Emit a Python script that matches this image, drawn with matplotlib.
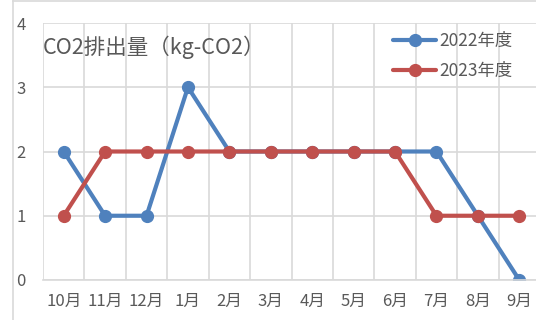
import matplotlib.pyplot as plt
import numpy as np

plt.rcParams['font.family'] = ['Noto Sans CJK JP', 'DejaVu Sans']

months = ['10月', '11月', '12月', '1月', '2月', '3月', '4月', '5月', '6月', '7月', '8月', '9月']
co2_2022 = [2, 1, 1, 3, 2, 2, 2, 2, 2, 2, 1, 0]
co2_2023 = [1, 2, 2, 2, 2, 2, 2, 2, 2, 1, 1, 1]
labels = ['2022年度', '2023年度']

blue = '#4F81BD'
red = '#C0504D'
grid_c = '#D9D9D9'
text_c = '#595959'

fig = plt.figure(figsize=(5.36, 3.2), dpi=100)
# plot area runs off the right edge of the image
ax = fig.add_axes([43/536, 1 - 280/320, 497/536, 257/320])

x = np.arange(len(months))
ax.plot(x, co2_2022, color=blue, lw=3, marker='o', ms=8.5, label=labels[0], solid_capstyle='round')
ax.plot(x, co2_2023, color=red, lw=3, marker='o', ms=8.5, label=labels[1], solid_capstyle='round')

ax.set_xlim(-0.5, len(months) - 0.5)
ax.set_ylim(0, 4)
ax.set_yticks(range(5))
ax.set_xticks(x)
ax.set_xticklabels(months)
ax.set_xticks(np.arange(-0.5, len(months)), minor=True)

ax.grid(True, which='minor', axis='x', color=grid_c, lw=1.2)
ax.grid(True, which='major', axis='y', color=grid_c, lw=1.2)
ax.set_axisbelow(True)
for s in ['top', 'right', 'left']:
    ax.spines[s].set_visible(False)
ax.spines['bottom'].set_color(grid_c)
ax.spines['bottom'].set_linewidth(1.2)
ax.tick_params(which='both', length=0, labelsize=12, colors=text_c, pad=9)
ax.tick_params(axis='y', pad=19)
for t in ax.get_yticklabels():
    t.set_horizontalalignment('left')

fig.text(43/536, 1 - 47/320, 'CO2排出量（kg-CO2）', fontsize=15.5, color=text_c,
         ha='left', va='center')

ax.legend(loc='upper left', bbox_to_anchor=(386/536, 1 - 25/320),
          bbox_transform=fig.transFigure, frameon=False, fontsize=12.5,
          labelcolor=text_c, handlelength=2.5, handletextpad=0.15,
          labelspacing=0.7, borderaxespad=0)

# chart border (only left and top sides fall inside the image)
fig.add_artist(plt.Line2D([13/536, 13/536], [0, 1 - 1/320], color=grid_c, lw=1.2))
fig.add_artist(plt.Line2D([13/536, 1], [1 - 1/320, 1 - 1/320], color=grid_c, lw=1.2))

fig.savefig('out.png', dpi=100)
